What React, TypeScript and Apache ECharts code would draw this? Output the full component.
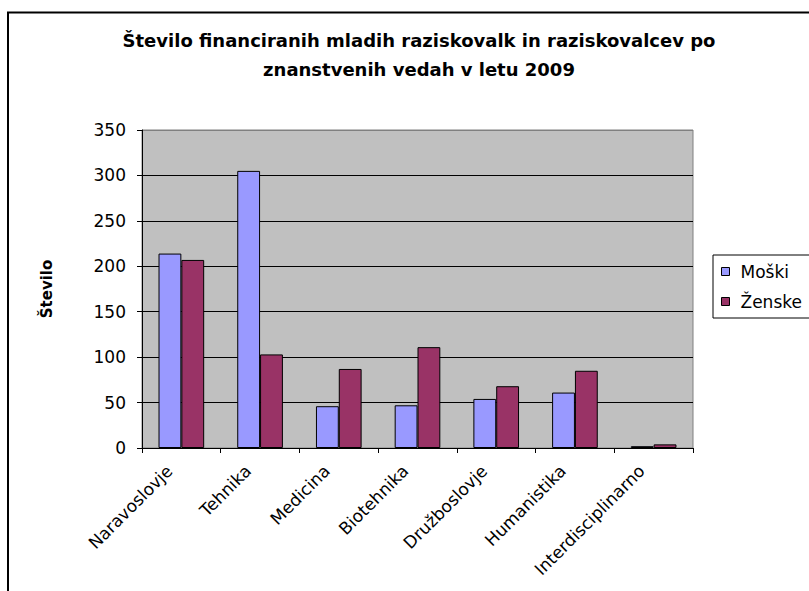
import React, { useEffect, useRef } from "react";
import * as echarts from "echarts";

const categories = ["Naravoslovje", "Tehnika", "Medicina", "Biotehnika", "Družboslovje", "Humanistika", "Interdisciplinarno"];
const moski = [214, 305, 46, 47, 54, 61, 2];
const zenske = [207, 103, 87, 111, 68, 85, 4];
const seriesNames = ["Moški", "Ženske"];
const titleText = "Število financiranih mladih raziskovalk in raziskovalcev po\nznanstvenih vedah v letu 2009";
const yAxisTitle = "Število";

const FONT = "DejaVu Sans";

export default function App() {
  const ref = useRef<HTMLDivElement>(null);
  useEffect(() => {
    if (!ref.current) return;
    const chart = echarts.init(ref.current, null, { renderer: "svg" });
    chart.setOption({
      animation: false,
      backgroundColor: "#fff",
      title: {
        text: titleText,
        left: 414,
        top: 21,
        textAlign: "center",
        textStyle: { fontFamily: FONT, fontWeight: "bold", fontSize: 18, color: "#000", lineHeight: 29 },
      },
      graphic: [
        {
          type: "rect",
          shape: { x: 8, y: 12.5, width: 900, height: 700 },
          style: { fill: "none", stroke: "#000", lineWidth: 2 },
          silent: true,
        },
      ],
      legend: {
        orient: "vertical",
        left: 713,
        top: 255,
        data: seriesNames,
        borderColor: "#000",
        borderWidth: 1,
        padding: [8, 30, 8, 8],
        itemGap: 13,
        itemWidth: 8,
        itemHeight: 8,
        icon: "rect",
        itemStyle: { borderColor: "#000", borderWidth: 1 },
        textStyle: { fontFamily: FONT, fontSize: 17, color: "#000", padding: [0, 0, 0, 6] },
      },
      grid: {
        left: 142,
        right: 116,
        top: 130,
        bottom: 143,
        show: true,
        backgroundColor: "#C0C0C0",
        borderColor: "#808080",
        borderWidth: 1,
      },
      xAxis: {
        type: "category",
        data: categories,
        axisLine: { lineStyle: { color: "#000", width: 1 } },
        axisTick: { show: true, length: 5, lineStyle: { color: "#000" } },
        axisLabel: {
          rotate: 45,
          interval: 0,
          margin: 8,
          padding: [0, 17, 0, 0],
          fontFamily: FONT,
          fontSize: 17,
          color: "#000",
        },
      },
      yAxis: {
        type: "value",
        min: 0,
        max: 350,
        interval: 50,
        name: yAxisTitle,
        nameLocation: "middle",
        nameRotate: 90,
        nameGap: 88,
        nameTextStyle: { fontFamily: FONT, fontWeight: "bold", fontSize: 15, color: "#000" },
        axisLine: { show: true, lineStyle: { color: "#000", width: 1 } },
        axisTick: { show: true, length: 5, lineStyle: { color: "#000" } },
        axisLabel: { margin: 16, fontFamily: FONT, fontSize: 17, color: "#000" },
        splitLine: {
          show: true,
          lineStyle: { color: ["#000", "#000", "#000", "#000", "#000", "#000", "#000", "#808080"], width: 1 },
        },
      },
      series: [
        {
          name: seriesNames[0],
          type: "bar",
          data: moski,
          barGap: "0%",
          barCategoryGap: "42%",
          itemStyle: { color: "#9999FF", borderColor: "#000", borderWidth: 1 },
        },
        {
          name: seriesNames[1],
          type: "bar",
          data: zenske,
          barGap: "0%",
          barCategoryGap: "42%",
          itemStyle: { color: "#993366", borderColor: "#000", borderWidth: 1 },
        },
      ],
    });
    return () => chart.dispose();
  }, []);
  return (
    <div
      ref={ref}
      style={{ position: "fixed", left: 0, top: 0, width: 809, height: 591, background: "#fff" }}
    />
  );
}
